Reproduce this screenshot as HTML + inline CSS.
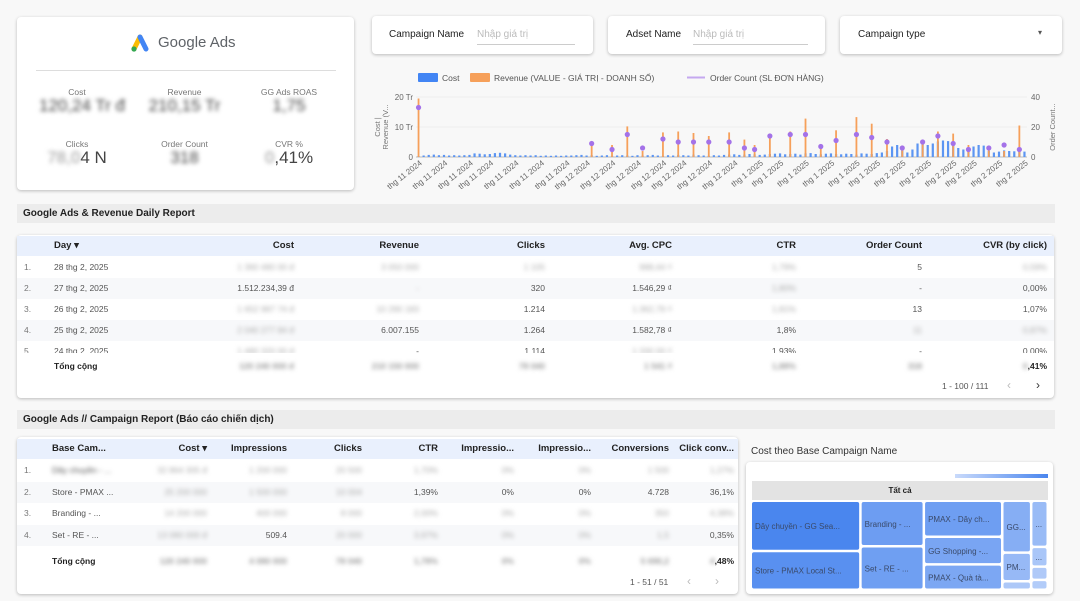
<!DOCTYPE html>
<html><head><meta charset="utf-8">
<style>
*{box-sizing:border-box;margin:0;padding:0}
body{width:1080px;height:601px;background:#f8f8f8;font-family:"Liberation Sans","Noto Sans CJK SC",sans-serif;color:#222;position:relative;overflow:hidden;font-size:9px}
.card{position:absolute;background:#fff;border-radius:4px;box-shadow:0 1px 3px rgba(0,0,0,.25)}
.abs{position:absolute}
.blur{filter:blur(2.2px);color:#999}
.lbl{color:#777;font-size:8.5px;text-align:center}
.kv{font-size:17px;color:#444;text-align:center}
.sec{position:absolute;left:17px;width:1038px;height:19px;background:#ececec;font-weight:bold;font-size:10px;line-height:19px;padding-left:6px}
.row{position:absolute;left:0;right:0;height:21px;line-height:21px}
.c{position:absolute;white-space:nowrap}
.r{text-align:right}
.filter{position:absolute;top:16px;height:38px;background:#fff;border-radius:4px;box-shadow:0 1px 3px rgba(0,0,0,.25);font-size:10px}
</style></head><body>

<div class="card" style="left:17px;top:17px;width:337px;height:173px">
  <div class="abs" style="left:113px;top:16px;width:120px;height:20px">
    <svg width="22" height="18" style="position:absolute;left:0;top:1px"><path d="M4 15 L10 3" stroke="#fbbc04" stroke-width="5" stroke-linecap="round"/><path d="M10 3 L16 15" stroke="#4285f4" stroke-width="5" stroke-linecap="round"/><circle cx="4" cy="15" r="2.6" fill="#34a853"/></svg>
    <span style="position:absolute;left:28px;top:1px;font-size:15px;color:#5f6368">Google Ads</span>
  </div>
  <div class="abs" style="left:19px;top:53px;width:300px;height:1px;background:#ddd"></div>
  <div class="abs lbl" style="left:20px;top:70px;width:80px">Cost</div>
  <div class="abs kv blur" style="left:10px;top:79px;width:110px">120,24 Tr đ</div>
  <div class="abs lbl" style="left:120px;top:70px;width:95px">Revenue</div>
  <div class="abs kv blur" style="left:120px;top:79px;width:95px">210,15 Tr</div>
  <div class="abs lbl" style="left:227px;top:70px;width:90px">GG Ads ROAS</div>
  <div class="abs kv blur" style="left:227px;top:79px;width:90px">1,75</div>
  <div class="abs lbl" style="left:20px;top:122px;width:80px">Clicks</div>
  <div class="abs kv" style="left:10px;top:131px;width:100px"><span class="blur">78,0</span>4 N</div>
  <div class="abs lbl" style="left:120px;top:122px;width:95px">Order Count</div>
  <div class="abs kv blur" style="left:120px;top:131px;width:95px">318</div>
  <div class="abs lbl" style="left:227px;top:122px;width:90px">CVR %</div>
  <div class="abs kv" style="left:227px;top:131px;width:90px"><span class="blur">0</span>,41%</div>
</div>

<div class="filter" style="left:372px;width:221px">
  <span class="c" style="left:17px;top:13px">Campaign Name</span>
  <span class="c" style="left:105px;top:13px;color:#bbb">Nhập giá trị</span>
  <div class="abs" style="left:105px;top:28px;width:98px;height:1px;background:#ccc"></div>
</div>
<div class="filter" style="left:608px;width:217px">
  <span class="c" style="left:18px;top:13px">Adset Name</span>
  <span class="c" style="left:85px;top:13px;color:#bbb">Nhập giá trị</span>
  <div class="abs" style="left:85px;top:28px;width:115px;height:1px;background:#ccc"></div>
</div>
<div class="filter" style="left:840px;width:222px">
  <span class="c" style="left:18px;top:13px">Campaign type</span>
  <span class="c" style="left:198px;top:12px;font-size:8px;color:#555">▾</span>
</div>

<svg id="chart" class="abs" style="left:360px;top:60px" width="700" height="145"></svg>

<div class="sec" style="top:204px">Google Ads &amp; Revenue Daily Report</div>

<div class="card" style="left:17px;top:235px;width:1037px;height:163px;font-size:8.5px">
  <div class="row" style="top:1px;height:20px;line-height:20px;background:#e9f0fd;font-weight:bold;font-size:9.5px">
    <span class="c" style="left:37px">Day ▾</span>
    <span class="c r" style="right:760px">Cost</span>
    <span class="c r" style="right:635px">Revenue</span>
    <span class="c r" style="right:509px">Clicks</span>
    <span class="c r" style="right:382px">Avg. CPC</span>
    <span class="c r" style="right:258px">CTR</span>
    <span class="c r" style="right:132px">Order Count</span>
    <span class="c r" style="right:7px">CVR (by click)</span>
  </div>
  <div id="t1rows"></div>
  <div class="row" style="top:122px;height:18px;line-height:18px;font-weight:bold">
    <span class="c" style="left:37px">Tổng cộng</span>
    <span class="c r blur" style="right:760px">120 240 000 đ</span>
    <span class="c r blur" style="right:635px">210 150 000</span>
    <span class="c r blur" style="right:509px">78 040</span>
    <span class="c r blur" style="right:382px">1 541 ₫</span>
    <span class="c r blur" style="right:258px">1,88%</span>
    <span class="c r blur" style="right:132px">318</span>
    <span class="c r" style="right:7px"><span class="blur">0</span>,41%</span>
  </div>
  <span class="c" style="left:925px;top:146px;color:#555">1 - 100 / 111</span>
  <span class="c" style="left:990px;top:143px;color:#bbb;font-size:12px">‹</span>
  <span class="c" style="left:1019px;top:143px;color:#333;font-size:12px">›</span>
</div>

<div class="sec" style="top:410px">Google Ads // Campaign Report (Báo cáo chiến dịch)</div>

<div class="card" style="left:17px;top:437px;width:721px;height:157px;font-size:8.5px">
  <div class="row" style="top:2px;height:20px;line-height:20px;background:#e9f0fd;font-weight:bold;font-size:9.5px">
    <span class="c" style="left:35px">Base Cam...</span>
    <span class="c r" style="right:531px">Cost ▾</span>
    <span class="c r" style="right:451px">Impressions</span>
    <span class="c r" style="right:376px">Clicks</span>
    <span class="c r" style="right:300px">CTR</span>
    <span class="c r" style="right:224px">Impressio...</span>
    <span class="c r" style="right:147px">Impressio...</span>
    <span class="c r" style="right:69px">Conversions</span>
    <span class="c r" style="right:4px">Click conv...</span>
  </div>
  <div id="t2rows"></div>
  <div class="row" style="top:114px;height:20px;line-height:20px;font-weight:bold">
    <span class="c" style="left:35px">Tổng cộng</span>
    <span class="c r blur" style="right:531px">120 240 000</span>
    <span class="c r blur" style="right:451px">4 080 000</span>
    <span class="c r blur" style="right:376px">78 040</span>
    <span class="c r blur" style="right:300px">1,78%</span>
    <span class="c r blur" style="right:224px">0%</span>
    <span class="c r blur" style="right:147px">0%</span>
    <span class="c r blur" style="right:69px">5 690,2</span>
    <span class="c r" style="right:4px"><span class="blur">4</span>,48%</span>
  </div>
  <span class="c" style="left:613px;top:140px;color:#555">1 - 51 / 51</span>
  <span class="c" style="left:670px;top:137px;color:#bbb;font-size:12px">‹</span>
  <span class="c" style="left:698px;top:137px;color:#bbb;font-size:12px">›</span>
</div>

<div class="abs" style="left:751px;top:446px;font-size:10px;color:#333">Cost theo Base Campaign Name</div>
<div class="card" style="left:746px;top:462px;width:307px;height:132px">
  <div class="abs" style="left:209px;top:12px;width:93px;height:4px;background:linear-gradient(90deg,#c9dafb,#4a86ee)"></div>
  <div class="abs" style="left:6px;top:19px;width:296px;height:19px;background:#e3e3e3;text-align:center;line-height:19px;font-size:8px;font-weight:bold">Tất cả</div>
  <svg id="tree" class="abs" style="left:6px;top:40px" width="297" height="89"></svg>
</div>

<script>
// ---------- daily chart data ----------
const costValues=[0.3,0.5,0.7,0.8,0.6,0.7,0.5,0.6,0.5,0.6,0.7,1.2,1.1,0.9,1,1.3,1.4,1.2,0.8,0.6,0.5,0.6,0.5,0.6,0.4,0.5,0.4,0.5,0.4,0.5,
0.5,0.6,0.7,0.5,0.6,0.4,0.5,0.6,0.4,0.5,0.6,0.5,0.4,0.6,0.5,0.6,0.7,0.5,0.4,0.6,0.5,0.7,0.6,0.5,0.8,0.6,0.5,0.4,0.6,0.5,0.7,
0.8,0.9,0.7,0.8,1.0,0.9,0.7,0.8,1.0,1.1,1.2,0.9,1.0,1.1,0.8,1.2,1.3,1.0,0.9,1.1,1.2,1.0,0.9,1.1,1.0,0.8,1.2,1.1,1.0,1.3,1.5,
2.0,3.5,4.0,3.0,1.5,2.5,4.5,4.2,4.0,4.5,5.2,5.5,5.3,4.0,3.0,2.5,3.2,3.5,4.0,3.8,2.0,1.5,1.8,2.2,2.0,1.9,2.5,1.8];
const revenueDays=[0,34,38,41,44,48,51,54,57,61,64,66,69,73,76,79,82,86,89,92,95,99,102,105,108,112,115,118];
const revenueValues=[19.5,4.5,4,10.2,2,8.2,8.5,8,7,8.2,5.8,4,6.9,8.5,12.8,3.5,8.9,13.3,11.1,6,3.8,5,8.5,7.8,4,3.3,2,10.5];
const orderValues=[33,9,5,15,6,12,10,10,10,10,6,5,14,15,15,7,11,15,13,10,6,10,14,9,5,6,8,5];
const xTickLabels=["thg 11 2024","thg 11 2024","thg 11 2024","thg 11 2024","thg 11 2024","thg 11 2024","thg 11 2024",
"thg 12 2024","thg 12 2024","thg 12 2024","thg 12 2024","thg 12 2024","thg 12 2024","thg 12 2024",
"thg 1 2025","thg 1 2025","thg 1 2025","thg 1 2025","thg 1 2025","thg 1 2025",
"thg 2 2025","thg 2 2025","thg 2 2025","thg 2 2025","thg 2 2025","thg 2 2025"];
const leftTicks=[0,10,20];
const leftTickLabels=["0","10 Tr","20 Tr"];
const rightTicks=[0,20,40];

const NS="http://www.w3.org/2000/svg";
const svg=document.getElementById('chart');
function mk(tag,attrs,parent){const e=document.createElementNS(NS,tag);for(const k in attrs)e.setAttribute(k,attrs[k]);(parent||svg).appendChild(e);return e;}
const X0=56,X1=667,Y0=97,Y1=37;
const nDays=costValues.length;
const step=(X1-X0)/nDays;
const xDay=d=>X0+step*(d+0.5);
const yL=v=>Y0-(v/20)*(Y0-Y1);
const yR=v=>Y0-(v/40)*(Y0-Y1);

// legend
let g=mk('g',{});


mk('rect',{x:58,y:13,width:20,height:9,fill:'#4285f4',rx:1},g);
let t=mk('text',{x:82,y:21,'font-size':8.5,fill:'#555'},g);t.textContent='Cost';
mk('rect',{x:110,y:13,width:20,height:9,fill:'#f6a05a',rx:1},g);
t=mk('text',{x:134,y:21,'font-size':8.5,fill:'#555'},g);t.textContent='Revenue (VALUE - GIÁ TRỊ - DOANH SỐ)';
mk('line',{x1:327,y1:17.5,x2:345,y2:17.5,stroke:'#c5a8ef','stroke-width':2},g);
t=mk('text',{x:350,y:21,'font-size':8.5,fill:'#555'},g);t.textContent='Order Count (SL ĐƠN HÀNG)';

// grid + ticks
leftTicks.forEach((v,i)=>{
  const l=mk('line',{x1:X0,x2:X1,y1:yL(v),y2:yL(v),stroke:i==0?'#bbb':'#eee'});
  
  
  const tx=mk('text',{x:X0-3,y:yL(v)+3,'font-size':8,fill:'#666','text-anchor':'end'});
  
  
  tx.textContent=leftTickLabels[i];
});
rightTicks.forEach(v=>{
  const tx=mk('text',{x:X1+4,y:yR(v)+3,'font-size':8,fill:'#666'});
  
  
  tx.textContent=v;
});
let at=mk('text',{x:0,y:0,'font-size':7.5,fill:'#777','text-anchor':'middle',transform:'translate(20,67) rotate(-90)'});


at.textContent='Cost |';
at=mk('text',{x:0,y:0,'font-size':7.5,fill:'#777','text-anchor':'middle',transform:'translate(28,67) rotate(-90)'});


at.textContent='Revenue (V...';
at=mk('text',{x:0,y:0,'font-size':7.5,fill:'#777','text-anchor':'middle',transform:'translate(695,67) rotate(-90)'});


at.textContent='Order Count...';

// cost bars
costValues.forEach((v,d)=>{
  const r=mk('rect',{x:xDay(d)-1.1,y:yL(v),width:2.2,height:Y0-yL(v),fill:'#5c95f2'});
  
  
});
// revenue bars
revenueDays.forEach((d,i)=>{
  const r=mk('rect',{x:xDay(d)-0.9,y:yL(revenueValues[i]),width:1.8,height:Y0-yL(revenueValues[i]),fill:'#f6a05a'});
  
  
});
// order points
revenueDays.forEach((d,i)=>{
  const c=mk('circle',{cx:xDay(d),cy:yR(orderValues[i]),r:2.6,fill:'#a472e8'});
  
  
});
// x labels
xTickLabels.forEach((s,i)=>{
  const d=Math.round(i*(nDays-1)/(xTickLabels.length-1));
  const x=xDay(d)+4;
  const tx=mk('text',{x:x,y:104,'font-size':8,fill:'#666','text-anchor':'end',transform:`rotate(-38 ${x} 104)`});
  
  
  tx.textContent=s;
});

// ---------- tables ----------
const dayRows=[["1.","28 thg 2, 2025","1 360 480 00 đ","3 050 000","1 105","988,44 ₫","1,79%","5","0,59%"],
["2.","27 thg 2, 2025","1.512.234,39 đ","-","320","1.546,29 ₫","1,80%","-","0,00%"],
["3.","26 thg 2, 2025","1 652 987 74 đ","10 290 183","1.214","1.362,79 ₫","1,81%","13","1,07%"],
["4.","25 thg 2, 2025","2 040 277 84 đ","6.007.155","1.264","1.582,78 ₫","1,8%","11","0,87%"],
["5.","24 thg 2, 2025","1 480 320 00 đ","-","1.114","1 330 00 ₫","1,93%","-","0,00%"]];
const blur1=[[2,3,4,5,6,8],[3,6],[2,3,5,6],[2,7,8],[2,5]];
const t1=document.getElementById('t1rows');
const rights1=[760,635,509,382,258,132,7];
dayRows.forEach((r,i)=>{
  const row=document.createElement('div');
  row.className='row';
  
  
  row.style.top=(22+i*21)+'px';
  row.style.height=(i==4?'12px':'21px');row.style.overflow='hidden';
  if(i%2==1)row.style.background='#f7f8fa';
  let h=`<span class="c" style="left:7px;color:#777">${r[0]}</span><span class="c" style="left:37px;color:#555">${r[1]}</span>`;
  for(let k=2;k<9;k++){h+=`<span class="c r${blur1[i].includes(k)?' blur':''}" style="right:${rights1[k-2]}px;color:${blur1[i].includes(k)?'#aaa':'#555'}">${r[k]}</span>`;}
  row.innerHTML=h;t1.appendChild(row);
});
const campRows=[["1.","Dây chuyền - ...","32 864 305 đ","1 200 000","20 500","1,70%","0%","0%","1 500","1,27%"],
["2.","Store - PMAX ...","25 200 000","1 500 000","10 004","1,39%","0%","0%","4.728","36,1%"],
["3.","Branding - ...","14 200 000","400 000","8 000","2,00%","0%","0%","350","4,38%"],
["4.","Set - RE - ...","13 080 000 đ","509.4","20 000","3,97%","0%","0%","1,5","0,35%"]];
const blur2=[[1,2,3,4,5,6,7,8,9],[2,3,4],[2,3,4,5,6,7,8,9],[2,4,5,6,7,8]];
const rights2=[531,451,376,300,224,147,69,4];
const t2=document.getElementById('t2rows');
campRows.forEach((r,i)=>{
  const row=document.createElement('div');
  row.className='row';
  
  
  row.style.top=(23+i*21.5)+'px';
  if(i%2==1)row.style.background='#f7f8fa';
  let h=`<span class="c" style="left:7px;color:#777">${r[0]}</span><span class="c${blur2[i].includes(1)?' blur':''}" style="left:35px;color:#555">${r[1]}</span>`;
  for(let k=2;k<10;k++){h+=`<span class="c r${blur2[i].includes(k)?' blur':''}" style="right:${rights2[k-2]}px;color:${blur2[i].includes(k)?'#aaa':'#555'}">${r[k]}</span>`;}
  row.innerHTML=h;t2.appendChild(row);
});

// ---------- treemap ----------
const treeNames=["Dây chuyền - GG Sea...","Store - PMAX Local St...","Branding - ...","Set - RE - ...","PMAX - Dây ch...","GG Shopping -...","PMAX - Quà tà...","GG...","PM...","","...","...","",""];
const treeValues=[5040,3885,2640,2520,2584,1976,1824,1372,756,224,700,300,200,150];
const treeColumns=[[0,1],[2,3],[4,5,6],[7,8,9],[10,11,12,13]];
const tree=document.getElementById('tree');
const TW=297,TH=89,GAP=2.5;
const total=treeValues.reduce((a,b)=>a+b,0);
const vmax=Math.max(...treeValues);
function col(v){const t=Math.sqrt(v/vmax);const a=[200,218,251],b=[74,134,238];return `rgb(${a.map((c,i)=>Math.round(c+(b[i]-c)*t)).join(',')})`;}
let cx=0;
treeColumns.forEach(colIdx=>{
  const s=colIdx.reduce((a,i)=>a+treeValues[i],0);
  const w=TW*s/total;
  let cy=0;
  colIdx.forEach(i=>{
    const h=TH*treeValues[i]/s;
    const r=document.createElementNS(NS,'rect');
    r.setAttribute('x',cx);r.setAttribute('y',cy);
    r.setAttribute('width',Math.max(w-GAP,0.5));r.setAttribute('height',Math.max(h-GAP,0.5));
    r.setAttribute('rx',2);r.setAttribute('fill',col(treeValues[i]));
    
    
    tree.appendChild(r);
    if(treeNames[i]&&h>12){
      const tx=document.createElementNS(NS,'text');
      tx.setAttribute('x',cx+3);tx.setAttribute('y',cy+h/2+2);
      tx.setAttribute('font-size',8);tx.setAttribute('fill','#3a4a6a');
      
      
      tx.textContent=treeNames[i];
      tree.appendChild(tx);
    }
    cy+=h;
  });
  cx+=w;
});
</script>
</body></html>
